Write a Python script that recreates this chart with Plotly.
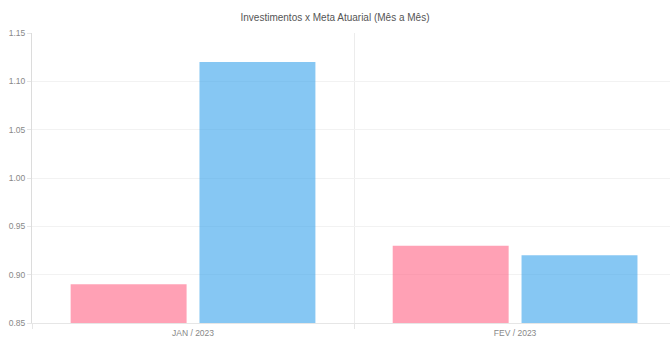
import plotly.graph_objects as go

categories = ["JAN / 2023", "FEV / 2023"]
investimentos = [0.89, 0.93]
meta_atuarial = [1.12, 0.92]
y_ticks = [0.85, 0.90, 0.95, 1.00, 1.05, 1.10, 1.15]
y_labels = ["0.85", "0.90", "0.95", "1.00", "1.05", "1.10", "1.15"]

fig = go.Figure()
fig.add_trace(go.Bar(name="Investimentos", x=categories, y=investimentos,
                     marker=dict(color="rgba(255,99,132,0.6)", line=dict(width=0))))
fig.add_trace(go.Bar(name="Meta Atuarial", x=categories, y=meta_atuarial,
                     marker=dict(color="rgba(54,162,235,0.6)", line=dict(width=0))))

font_family = "Liberation Sans, Arial, Helvetica, sans-serif"
fig.update_layout(
    width=670, height=338,
    margin=dict(l=32, r=0, t=33, b=15),
    paper_bgcolor="white", plot_bgcolor="white",
    barmode="group", bargap=0.2, bargroupgap=0.1,
    showlegend=False,
    title=dict(text="Investimentos x Meta Atuarial (Mês a Mês)",
               x=0.5, xanchor="center", y=1 - 17/338, yanchor="middle",
               font=dict(family=font_family, size=10, color="#555")),
    font=dict(family=font_family, size=9, color="#777"),
)
fig.update_xaxes(
    range=[-0.5, 1.481], type="category",
    tickson="boundaries", ticks="outside", ticklen=5, tickcolor="#e6e6e6",
    ticklabelstandoff=2,
    showgrid=True, gridcolor="#ececec", gridwidth=1,
    showline=True, linecolor="#e6e6e6", linewidth=1,
    tickfont=dict(size=8.5, color="#888"), automargin=False, fixedrange=True,
)
fig.update_yaxes(
    range=[0.85, 1.15], tickvals=y_ticks, ticktext=y_labels,
    ticks="outside", ticklen=4, tickcolor="#e6e6e6",
    showgrid=True, gridcolor="#f2f2f2", gridwidth=1, zeroline=False,
    showline=True, linecolor="#dcdcdc", linewidth=1,
    tickfont=dict(size=8.5, color="#888"), automargin=False,
)

fig.write_html("out.html")
